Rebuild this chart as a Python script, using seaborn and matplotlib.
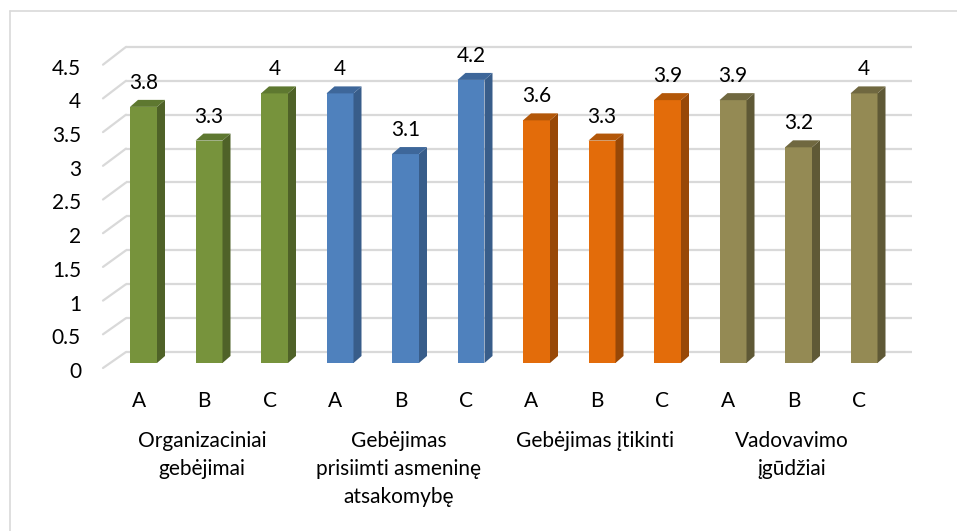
import matplotlib
matplotlib.use("Agg")
import matplotlib.pyplot as plt
import matplotlib.lines as mlines
import seaborn as sns
import pandas as pd

# --- data ---------------------------------------------------------------
groups = [
    "Organizaciniai\ngebėjimai",
    "Gebėjimas\nprisiimti asmeninę\natsakomybę",
    "Gebėjimas įtikinti",
    "Vadovavimo\nįgūdžiai",
]
subgroups = ["A", "B", "C"]
values = [3.8, 3.3, 4.0, 4.0, 3.1, 4.2, 3.6, 3.3, 3.9, 3.9, 3.2, 4.0]
value_labels = ["3.8", "3.3", "4", "4", "3.1", "4.2", "3.6", "3.3", "3.9", "3.9", "3.2", "4"]
y_ticks = [0, 0.5, 1, 1.5, 2, 2.5, 3, 3.5, 4, 4.5]
y_tick_labels = ["0", "0.5", "1", "1.5", "2", "2.5", "3", "3.5", "4", "4.5"]

front_colors = ["#77933C", "#4F81BD", "#E36C0A", "#948A54"]
side_colors = ["#4F6228", "#385D8A", "#984807", "#5F5936"]
top_colors = ["#5E7830", "#3E679A", "#B35708", "#706840"]

rows = []
for gi, g in enumerate(groups):
    for si, s in enumerate(subgroups):
        k = gi * 3 + si
        rows.append({"pos": f"b{k:02d}", "group": g, "sub": s, "value": values[k]})
df = pd.DataFrame(rows)

sns.set_theme(style="white")
plt.rcParams["font.family"] = ["Lato", "DejaVu Sans"]
FS = 15

W, H = 957, 531
fig = plt.figure(figsize=(W / 100, H / 100), dpi=100)

# pixel geometry of the plotting box
px_per_x = 65.5
px_per_y = 67.4
x0_px, base_px = 143.5, 363.0
ax_left_px, ax_right_px = 100, 920
ax_top_px, ax_bot_px = 40, 377
xlim = ((ax_left_px - x0_px) / px_per_x, (ax_right_px - x0_px) / px_per_x)
ylim = ((base_px - ax_bot_px) / px_per_y, (base_px - ax_top_px) / px_per_y)
ax = fig.add_axes([ax_left_px / W, 1 - ax_bot_px / H,
                   (ax_right_px - ax_left_px) / W, (ax_bot_px - ax_top_px) / H])

sns.barplot(data=df, x="pos", y="value", hue="group", palette=front_colors,
            dodge=False, width=27 / px_per_x, legend=False, ax=ax, zorder=3,
            saturation=1)
ax.set_xlim(*xlim)
ax.set_ylim(*ylim)
ax.axis("off")

grid_c = "#D9D9D9"
back_dy = 11 / px_per_y
front_dy = -5 / px_per_y
diag_x0 = (103 - x0_px) / px_per_x
diag_x1 = (126 - x0_px) / px_per_x
wall_x1 = (912 - x0_px) / px_per_x
for v, lab in zip(y_ticks, y_tick_labels):
    ax.plot([diag_x1, wall_x1], [v * 1.006 + back_dy] * 2, color=grid_c, lw=1.6,
            zorder=1, solid_capstyle="butt")
    ax.plot([diag_x0, diag_x1], [v + front_dy, v * 1.006 + back_dy], color=grid_c,
            lw=1.6, zorder=1)
    ax.text((81 - x0_px) / px_per_x, v + front_dy - 4 / px_per_y, lab,
            ha="right", va="center", fontsize=FS, color="#000000")

# depth faces of the bars
dx = 8 / px_per_x
dy = 7 / px_per_y
for k, p in enumerate(ax.patches):
    gi = k // 3
    xa = p.get_x()
    xb = xa + p.get_width()
    h = p.get_height()
    p.set_edgecolor("none")
    ax.fill([xb, xb + dx, xb + dx, xb], [0, dy, h + dy, h],
            color=side_colors[gi], lw=0, zorder=3)
    ax.fill([xa, xb, xb + dx, xa + dx], [h, h, h + dy, h + dy],
            color=top_colors[gi], lw=0, zorder=3)
    cx = xa + p.get_width() / 2
    ax.text(cx, h + 24 / px_per_y, value_labels[k], ha="center", va="center",
            fontsize=FS, color="#000000")
    ax.text(cx - 5 / px_per_x, -38 / px_per_y, subgroups[k % 3], ha="center",
            va="center", fontsize=FS, color="#000000", clip_on=False)

for gi, g in enumerate(groups):
    cx = gi * 3 + 1 - 7 / px_per_x
    ax.text(cx, -(431 - base_px) / px_per_y, g, ha="center", va="top",
            fontsize=FS, color="#000000", linespacing=1.5, clip_on=False)

# chart frame (top and left edges)
fig.add_artist(mlines.Line2D([10 / W, 1], [1 - 11 / H] * 2, color=grid_c, lw=1.2,
                             transform=fig.transFigure))
fig.add_artist(mlines.Line2D([10 / W] * 2, [0, 1 - 11 / H], color=grid_c, lw=1.2,
                             transform=fig.transFigure))

fig.savefig("out.png", dpi=100)
